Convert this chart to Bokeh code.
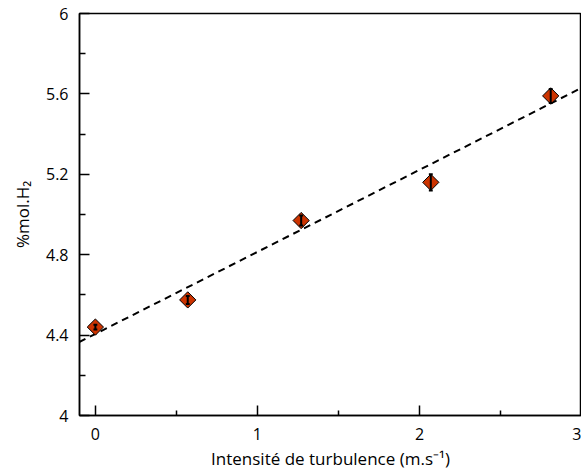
from bokeh.plotting import figure
from bokeh.models import FixedTicker, Range1d
from bokeh.embed import file_html
from bokeh.resources import INLINE

# data
x_vals = [0.0, 0.57, 1.27, 2.07, 2.81]
y_vals = [4.44, 4.575, 4.97, 5.16, 5.59]
y_err = [0.012, 0.02, 0.025, 0.04, 0.035]
fit_x = [-0.1, 3.0]
fit_y = [4.365, 5.63]
x_ticks = [0, 1, 2, 3]
x_minor = [0.5, 1.5, 2.5]
y_ticks = [4.0, 4.4, 4.8, 5.2, 5.6, 6.0]
y_minor = [4.2, 4.6, 5.0, 5.4, 5.8]
y_tick_labels = {4.0: "4", 4.4: "4.4", 4.8: "4.8", 5.2: "5.2", 5.6: "5.6", 6.0: "6"}

FONT = "Open Sans"

p = figure(width=581, height=473, output_backend="svg", toolbar_location=None,
           x_range=Range1d(-0.098, 3.0), y_range=Range1d(4.0, 6.0),
           min_border_left=79, min_border_right=0, min_border_top=13, min_border_bottom=58)
p.xgrid.visible = False
p.ygrid.visible = False
p.outline_line_color = "black"
p.outline_line_width = 1.5
p.background_fill_color = "white"
p.border_fill_color = "white"

# fit line
p.line(fit_x, fit_y, line_color="black", line_width=2, line_dash="7 5")

# error bars
lo = [y - e for y, e in zip(y_vals, y_err)]
hi = [y + e for y, e in zip(y_vals, y_err)]
cap = 0.012

# markers
p.scatter(x_vals, y_vals, marker="square", size=11.5, angle=0.785398,
          fill_color="#CC3300", line_color="black", line_width=1)
p.segment(x0=x_vals, y0=lo, x1=x_vals, y1=hi, line_color="black", line_width=2)
p.segment(x0=[x - cap for x in x_vals], y0=lo, x1=[x + cap for x in x_vals], y1=lo, line_color="black", line_width=2)
p.segment(x0=[x - cap for x in x_vals], y0=hi, x1=[x + cap for x in x_vals], y1=hi, line_color="black", line_width=2)

for ax in (p.xaxis[0], p.yaxis[0]):
    ax.major_tick_out = 0
    ax.minor_tick_out = 0
    ax.axis_line_width = 1.5
    ax.axis_line_color = "black"
    ax.major_tick_line_color = "black"
    ax.minor_tick_line_color = "black"
    ax.major_tick_line_width = 1.5
    ax.minor_tick_line_width = 1.5
    ax.major_label_text_font = FONT
    ax.major_label_text_font_size = "16px"
    ax.major_label_text_color = "black"
    ax.axis_label_text_font = FONT
    ax.axis_label_text_font_size = "17px"
    ax.axis_label_text_font_style = "normal"
    ax.axis_label_text_color = "black"

xa = p.xaxis[0]
xa.ticker = FixedTicker(ticks=x_ticks, minor_ticks=x_minor)
xa.major_tick_in = 10
xa.minor_tick_in = 5
xa.major_label_standoff = 12
xa.axis_label = "Intensité de turbulence (m.s⁻¹)"
xa.axis_label_standoff = 4

ya = p.yaxis[0]
ya.ticker = FixedTicker(ticks=y_ticks, minor_ticks=y_minor)
ya.major_label_overrides = y_tick_labels
ya.major_tick_in = 10
ya.minor_tick_in = 6
ya.major_label_standoff = 11
ya.axis_label = "%mol.H₂"
ya.axis_label_standoff = 9

open("out.html", "w").write(file_html(p, INLINE))
